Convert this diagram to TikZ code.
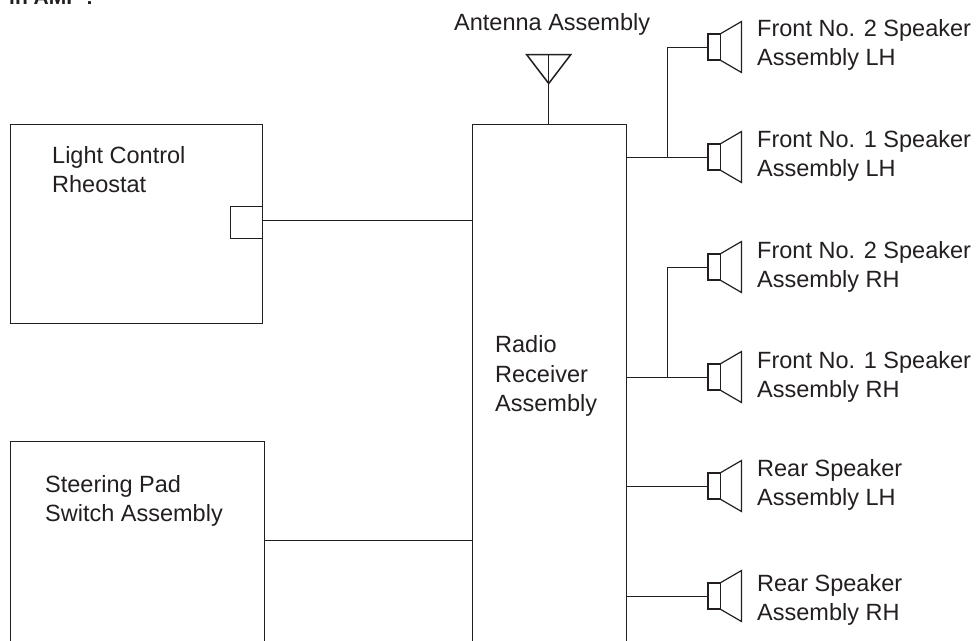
\documentclass[tikz,border=0pt]{standalone}
\usepackage{fontspec}
\setmainfont{Liberation Sans}
\usetikzlibrary{calc}
\definecolor{ink}{HTML}{231F20}
\tikzset{
  wire/.style={draw=ink,line width=1pt},
  box/.style={draw=ink,line width=1pt,rectangle,inner sep=0pt,anchor=north west},
  spk/.style={draw=ink,line width=1.5pt,line join=miter},
  lab/.style={font=\fontsize{23.5}{28.8}\selectfont,text=ink,align=left,anchor=north west,inner sep=0pt},
}
\newcommand{\speaker}[2]{% name, centre y
  \coordinate (#1) at (708,#2);
  \draw[spk] ($(#1)+(12,-13)$) -- ($(#1)+(0,-13)$) -- ($(#1)+(0,13)$) -- ($(#1)+(12,13)$);
  \draw[wire] ($(#1)+(12,-13)$) -- ($(#1)+(12,13)$);
  \draw[spk,line width=1.2pt] ($(#1)+(12,-13)$) -- ($(#1)+(33.5,-25.5)$) -- ($(#1)+(33.5,25.5)$) -- ($(#1)+(12,13)$);
}
\begin{document}
\begin{tikzpicture}[x=1pt,y=-1pt]
\useasboundingbox (0,0) rectangle (976,640);
\clip (0,0) rectangle (976,640);
% boxes
\node[box,minimum width=252.5pt,minimum height=199pt] (light) at (9.5,124) {};
\node[box,minimum width=32pt,minimum height=32pt] (conn) at (230,206) {};
\node[box,minimum width=254.5pt,minimum height=240pt] (pad) at (9.5,441) {};
\node[box,minimum width=154pt,minimum height=560pt] (radio) at (472,124) {};
% antenna
\coordinate (ant) at (548.7,54.7);
\coordinate (antTip) at (548.7,83.5);
\draw[spk] (526.7,54.7) -- (570.7,54.7) -- (antTip) -- cycle;
\draw[wire] (ant) -- (548.7,124);
% speakers
\speaker{s1}{47}
\speaker{s2}{157}
\speaker{s3}{267}
\speaker{s4}{377}
\speaker{s5}{486}
\speaker{s6}{596}
% junctions
\coordinate (j1) at (667,157);
\coordinate (j2) at (667,377);
\draw[wire] (626,157) -- (s2);
\draw[wire] (j1) |- (s1);
\draw[wire] (626,377) -- (s4);
\draw[wire] (j2) |- (s3);
\draw[wire] (626,486) -- (s5);
\draw[wire] (626,596) -- (s6);
\draw[wire] (262,220) -- (472,220);
\draw[wire] (264,540) -- (472,540);
% text
\node[lab] (tA) at (454,13.5) {Antenna Assembly};
\node[lab] (t1) at (757,19) {Front No. 2 Speaker\\Assembly LH};
\node[lab] (t2) at (757,130.7) {Front No. 1 Speaker\\Assembly LH};
\node[lab] (t3) at (757,241.3) {Front No. 2 Speaker\\Assembly RH};
\node[lab] (t4) at (757,351.3) {Front No. 1 Speaker\\Assembly RH};
\node[lab] (t5) at (757,459) {Rear Speaker\\Assembly LH};
\node[lab] (t6) at (757,574.7) {Rear Speaker\\Assembly RH};
\node[lab] (tL) at (52,146.5) {Light Control\\Rheostat};
\node[lab] (tP) at (45,475.5) {Steering Pad\\Switch Assembly};
\node[lab,font=\fontsize{23.5}{29.5}\selectfont] (tR) at (495,335.5) {Radio\\Receiver\\Assembly};
\node[font=\fontsize{21}{25}\selectfont\bfseries,text=ink,anchor=base west,inner sep=0pt] (tT) at (2,4.5) {-in AMP :};
\end{tikzpicture}
\end{document}
